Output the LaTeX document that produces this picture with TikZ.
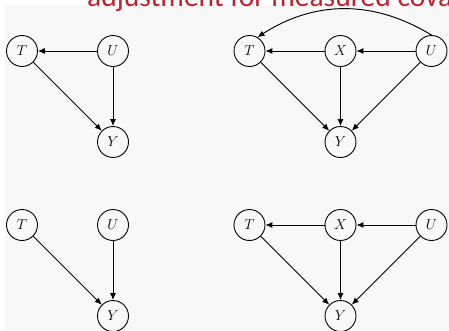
\documentclass[tikz,border=0pt]{standalone}
\usepackage{amsmath,amssymb}
\usepackage{fontspec}
\newfontfamily\titlefont{Carlito}
\usepackage{tikz}
\usetikzlibrary{arrows.meta}
\tikzset{>={Latex[width=6pt,length=7pt]}}
\definecolor{slidered}{RGB}{192,32,44}
\definecolor{slidegray}{RGB}{248,248,248}
\tikzset{
  var/.style={draw, circle, line width=0.9pt, minimum size=31pt, inner sep=0pt,
    font=\fontsize{14}{16}\selectfont},
  edge/.style={->, line width=0.95pt}
}

\begin{document}
\begin{tikzpicture}[x=1pt,y=1pt]

  \newcommand\X{91pt}
  \newcommand\Y{91pt}
  \newcommand\V{174pt}

  %% <spacing>
  \useasboundingbox (-22, 51) rectangle (427, -279);
  \clip (-22, 51) rectangle (427, -279);
  \fill[slidegray] (-17, 46) rectangle (427, -279);
  % </spacing>

  \node[anchor=base west, text=slidered, inner sep=0pt, font=\titlefont\fontsize{29.5}{31}\selectfont]
    (title) at (65, 44.5) {adjustment for measured cova};

  %% top left
  \node[var] (T1) at (0*\X, 0*\Y) {$T$};
  \node[var] (U1) at (1*\X, 0*\Y) {$U$};
  \node[var] (Y1) at (1*\X, -1*\Y) {$Y$};

  \draw[edge] (U1) -- (T1); % U->T
  \draw[edge] (U1) -- (Y1); % U->Y
  \draw[edge] (T1) -- (Y1); % T->Y

  %% top right
  \node[var] (T2) at (2.5*\X, 0*\Y) {$T$};
  \node[var] (X2) at (3.5*\X, 0*\Y) {$X$};
  \node[var] (U2) at (4.5*\X, 0*\Y) {$U$};
  \node[var] (Y2) at (3.5*\X, -1*\Y) {$Y$};

  \draw[edge] (X2) -- (T2); % X->T
  \draw[edge] (U2) -- (X2); % U->X
  \draw[edge] (T2) -- (Y2); % T->Y
  \draw[edge] (X2) -- (Y2); % X->Y
  \draw[edge] (U2) -- (Y2); % U->Y
  \draw[edge] (U2.north) to[bend right=32] (T2.60); % U->T

  %% bottom left
  \node[var] (T3) at (0*\X, -\V) {$T$};
  \node[var] (U3) at (1*\X, -\V) {$U$};
  \node[var] (Y3) at (1*\X, -\V-1*\Y) {$Y$};

  \draw[edge] (T3) -- (Y3); % T->Y
  \draw[edge] (U3) -- (Y3); % U->Y

  %% bottom right
  \node[var] (T4) at (2.5*\X, -\V) {$T$};
  \node[var] (X4) at (3.5*\X, -\V) {$X$};
  \node[var] (U4) at (4.5*\X, -\V) {$U$};
  \node[var] (Y4) at (3.5*\X, -\V-1*\Y) {$Y$};

  \draw[edge] (X4) -- (T4); % X->T
  \draw[edge] (U4) -- (X4); % U->X
  \draw[edge] (T4) -- (Y4); % T->Y
  \draw[edge] (X4) -- (Y4); % X->Y
  \draw[edge] (U4) -- (Y4); % U->Y

\end{tikzpicture}
\end{document}
